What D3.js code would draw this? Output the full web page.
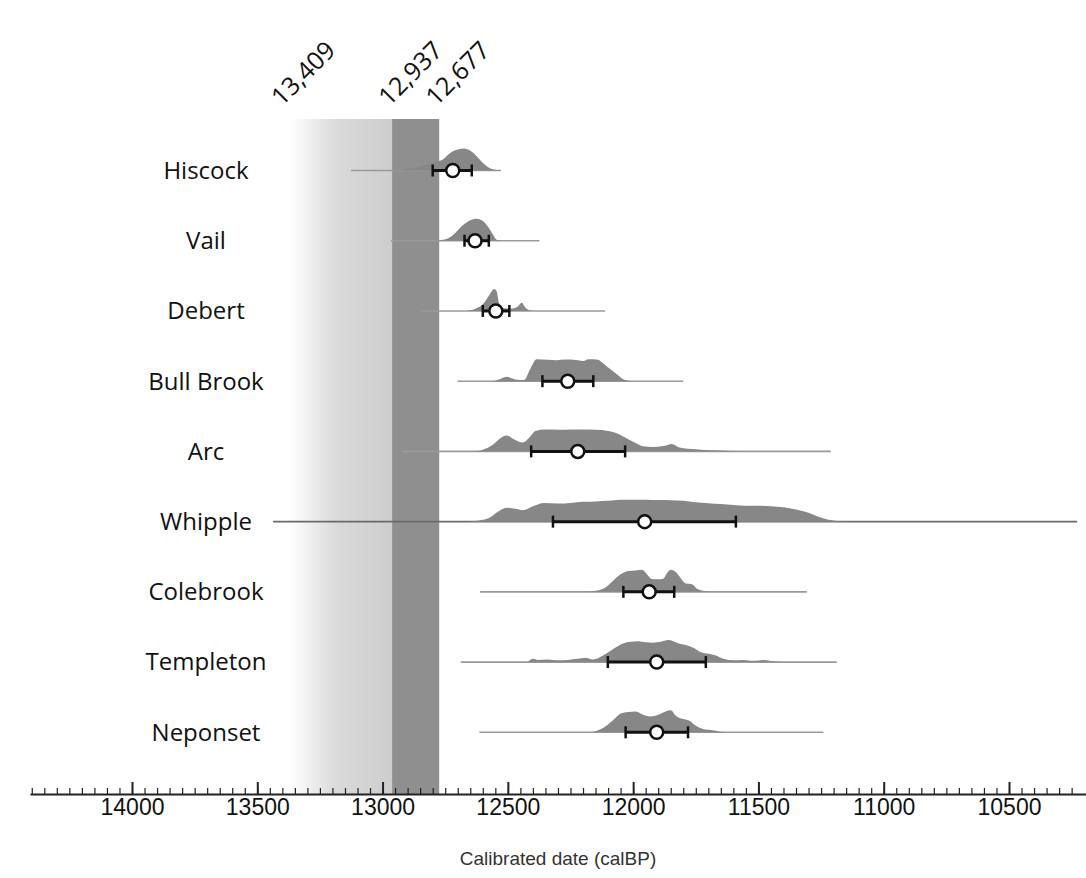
<!DOCTYPE html>
<html lang="en">
<head>
<meta charset="utf-8">
<title>Calibrated dates</title>
<style>
  body { margin: 0; padding: 0; background: #fff; }
  svg { display: block; }
</style>
<script src="https://cdn.jsdelivr.net/npm/d3@7"></script>
</head>
<body>
<div id="root"></div>
<script>
// ---- data ----
var sites = ["Hiscock", "Vail", "Debert", "Bull Brook", "Arc", "Whipple", "Colebrook", "Templeton", "Neponset"];
var means = [12720, 12631, 12548, 12261, 12221, 11954, 11936, 11906, 11906];
var errOld = [12800, 12673, 12600, 12362, 12407, 12320, 12039, 12101, 12030];
var errYoung = [12644, 12576, 12494, 12159, 12032, 11590, 11836, 11710, 11781];
var rangeOld = [13126, 12967, 12850, 12701, 12923, 13437, 12611, 12688, 12614];
var rangeYoung = [12528, 12374, 12112, 11800, 11211, 10228, 11307, 11187, 11241];

// [calBP, relative density]
var densHiscock = [[12960,0],[12900,0.08],[12840,0.22],[12790,0.38],[12760,0.5],[12730,0.8],[12700,0.95],[12675,1],[12650,0.9],[12630,0.72],[12600,0.35],[12575,0.12],[12545,0.02],[12520,0]];
var densVail = [[12790,0],[12740,0.1],[12710,0.35],[12680,0.7],[12650,0.93],[12625,1],[12600,0.9],[12580,0.65],[12560,0.3],[12545,0.05],[12530,0]];
var densDebert = [[12670,0],[12630,0.1],[12600,0.3],[12575,0.7],[12555,1],[12545,0.9],[12535,0.35],[12515,0.12],[12490,0.1],[12460,0.2],[12445,0.37],[12430,0.15],[12410,0.02],[12400,0]];
var densBullBrook = [[12560,0],[12530,0.1],[12504,0.2],[12470,0.08],[12435,0.05],[12411,0.55],[12385,1],[12340,0.97],[12306,0.95],[12270,0.98],[12239,0.97],[12199,0.92],[12179,1],[12145,0.98],[12105,0.67],[12065,0.32],[12032,0.05],[12000,0]];
var densArc = [[12640,0],[12600,0.08],[12560,0.3],[12530,0.6],[12505,0.72],[12480,0.58],[12440,0.4],[12415,0.62],[12390,0.93],[12350,0.99],[12300,0.98],[12250,0.99],[12200,1],[12150,0.98],[12100,0.93],[12060,0.8],[12030,0.62],[11990,0.38],[11960,0.23],[11920,0.2],[11880,0.24],[11846,0.34],[11815,0.18],[11750,0.1],[11680,0.05],[11610,0.02],[11560,0]];
var densWhipple = [[12660,0],[12600,0.08],[12570,0.2],[12540,0.45],[12505,0.63],[12470,0.58],[12440,0.52],[12400,0.7],[12355,0.85],[12300,0.82],[12250,0.85],[12200,0.9],[12150,0.92],[12100,0.95],[12050,1],[12000,1],[11950,1],[11900,0.98],[11850,0.97],[11800,0.95],[11750,0.88],[11700,0.84],[11650,0.8],[11600,0.76],[11550,0.72],[11500,0.72],[11450,0.7],[11400,0.65],[11350,0.55],[11300,0.4],[11260,0.22],[11220,0.08],[11180,0.02],[11130,0]];
var densColebrook = [[12200,0],[12150,0.05],[12110,0.2],[12080,0.5],[12050,0.8],[12020,0.95],[11990,0.97],[11965,1],[11945,0.8],[11925,0.58],[11900,0.57],[11880,0.6],[11865,0.85],[11848,1],[11830,0.9],[11810,0.62],[11790,0.38],[11765,0.35],[11745,0.14],[11720,0.05],[11690,0.01],[11650,0]];
var densTempleton = [[12420,0],[12400,0.15],[12380,0.1],[12340,0.12],[12300,0.08],[12260,0.1],[12220,0.15],[12190,0.2],[12160,0.12],[12120,0.3],[12080,0.6],[12040,0.85],[12010,0.92],[11980,0.95],[11950,0.9],[11920,0.88],[11890,0.92],[11860,1],[11840,0.95],[11810,0.82],[11790,0.78],[11760,0.65],[11730,0.45],[11700,0.38],[11670,0.3],[11640,0.15],[11600,0.08],[11560,0.1],[11520,0.06],[11480,0.1],[11440,0.04],[11400,0]];
var densNeponset = [[12170,0],[12120,0.2],[12080,0.55],[12050,0.85],[12020,0.92],[11990,0.95],[11960,0.8],[11930,0.72],[11900,0.8],[11870,0.95],[11850,1],[11830,0.75],[11800,0.6],[11780,0.55],[11750,0.3],[11720,0.15],[11690,0.1],[11650,0.03],[11620,0]];
var densities = [densHiscock, densVail, densDebert, densBullBrook, densArc, densWhipple, densColebrook, densTempleton, densNeponset];

var bandEdges = [13370, 12962, 12774];
var bandLabels = ["13,409", "12,937", "12,677"];
var majorTicks = [14000, 13500, 13000, 12500, 12000, 11500, 11000, 10500];

// ---- layout ----
var W = 1086, H = 878;
var axisY = 794;

var svg = d3.select("#root").append("svg")
    .attr("width", W)
    .attr("height", H);

var x = d3.scaleLinear().domain([14000, 10500]).range([132, 1009]);
var xAxisScale = x.copy().domain([x.invert(30), x.invert(W)]).range([30, W]);
var y = d3.scalePoint().domain(sites).range([170.5, 732.3]);
var h = d3.scaleLinear().domain([0, 1]).range([0, 22]);

// gradient for the older boundary zone
var defs = svg.append("defs");
var grad = defs.append("linearGradient").attr("id", "fade")
    .attr("x1", "0%").attr("x2", "100%").attr("y1", "0%").attr("y2", "0%");
grad.append("stop").attr("offset", "0%").attr("stop-color", "#ffffff");
grad.append("stop").attr("offset", "45%").attr("stop-color", "#dadada");
grad.append("stop").attr("offset", "100%").attr("stop-color", "#cdcdcd");

svg.append("rect")
    .attr("x", x(bandEdges[0]))
    .attr("y", 119)
    .attr("width", x(bandEdges[1]) - x(bandEdges[0]))
    .attr("height", axisY - 119)
    .attr("fill", "url(#fade)");

svg.append("rect")
    .attr("x", x(bandEdges[1]))
    .attr("y", 119)
    .attr("width", x(bandEdges[2]) - x(bandEdges[1]))
    .attr("height", axisY - 119)
    .attr("fill", "#8f8f8f");

// boundary labels, tilted
svg.selectAll("text.bound")
    .data(bandLabels)
  .enter().append("text")
    .attr("class", "bound")
    .attr("transform", function(d, i) {
      var offs = i == 0 ? -8 : -3;
      return "translate(" + (x(bandEdges[i]) + offs) + "," + 107 + ") rotate(-45)";
    })
    .style("font-family", "'Open Sans', sans-serif")
    .style("font-size", "25px")
    .attr("fill", "#111")
    .text(function(d) { return d; });

// site labels
svg.selectAll("text.site")
    .data(sites)
  .enter().append("text")
    .attr("class", "site")
    .attr("x", 206)
    .attr("y", function(d) { return y(d); })
    .attr("dy", "0.35em")
    .attr("text-anchor", "middle")
    .style("font-family", "'Open Sans', sans-serif")
    .style("font-size", "24px")
    .attr("fill", "#111")
    .text(function(d) { return d; });

var rows = svg.selectAll("g.row")
    .data(sites)
  .enter().append("g")
    .attr("class", "row");

// full range line
rows.append("line")
    .attr("x1", function(d, i) { return x(rangeOld[i]); })
    .attr("x2", function(d, i) { return x(rangeYoung[i]); })
    .attr("y1", function(d) { return y(d); })
    .attr("y2", function(d) { return y(d); })
    .attr("stroke", function(d) { return d == "Whipple" ? "#6a6a6a" : "#9a9a9a"; })
    .attr("stroke-width", 1.6);

// density
rows.append("path")
    .attr("fill", "#878787")
    .attr("d", function(d, i) {
      var base = y(d);
      return d3.area()
        .curve(d3.curveMonotoneX)
        .x(function(p) { return x(p[0]); })
        .y0(base)
        .y1(function(p) { return base - h(p[1]); })(densities[i]);
    });

// error bar
rows.append("line")
    .attr("x1", function(d, i) { return x(errOld[i]); })
    .attr("x2", function(d, i) { return x(errYoung[i]); })
    .attr("y1", function(d) { return y(d); })
    .attr("y2", function(d) { return y(d); })
    .attr("stroke", "#111")
    .attr("stroke-width", 3);

rows.each(function(d, i) {
  var g = d3.select(this);
  [errOld[i], errYoung[i]].forEach(function(v) {
    g.append("line")
      .attr("x1", x(v)).attr("x2", x(v))
      .attr("y1", y(d) - 6).attr("y2", y(d) + 6)
      .attr("stroke", "#111")
      .attr("stroke-width", 2.5);
  });
});

rows.append("circle")
    .attr("cx", function(d, i) { return x(means[i]); })
    .attr("cy", function(d) { return y(d); })
    .attr("r", 6.5)
    .attr("fill", "#fff")
    .attr("stroke", "#111")
    .attr("stroke-width", 2.5);

// axis: minor ticks every 50, major every 500
var minorAxis = d3.axisBottom(xAxisScale)
    .tickValues(d3.range(10250, 14450, 50))
    .tickSizeInner(-6)
    .tickSizeOuter(0)
    .tickFormat("");

var majorAxis = d3.axisBottom(xAxisScale)
    .tickValues(majorTicks)
    .tickSizeInner(-12)
    .tickSizeOuter(0)
    .tickPadding(5)
    .tickFormat(d3.format("d"));

var gMinor = svg.append("g")
    .attr("transform", "translate(0," + axisY + ")")
    .call(minorAxis);
gMinor.selectAll(".tick line").attr("stroke", "#222").attr("stroke-width", 1.2);
gMinor.select(".domain").attr("stroke", "#222").attr("stroke-width", 2);

var gMajor = svg.append("g")
    .attr("transform", "translate(0," + axisY + ")")
    .call(majorAxis);
gMajor.select(".domain").remove();
gMajor.selectAll(".tick line").attr("stroke", "#222").attr("stroke-width", 2);
gMajor.selectAll(".tick text")
    .style("font-family", "'Liberation Sans', Arial, sans-serif")
    .style("font-size", "23px")
    .attr("fill", "#111");

svg.append("text")
    .attr("x", 558)
    .attr("y", 865)
    .attr("text-anchor", "middle")
    .style("font-family", "'Liberation Sans', Arial, sans-serif")
    .style("font-size", "19px")
    .attr("fill", "#333")
    .text("Calibrated date (calBP)");
</script>
</body>
</html>
